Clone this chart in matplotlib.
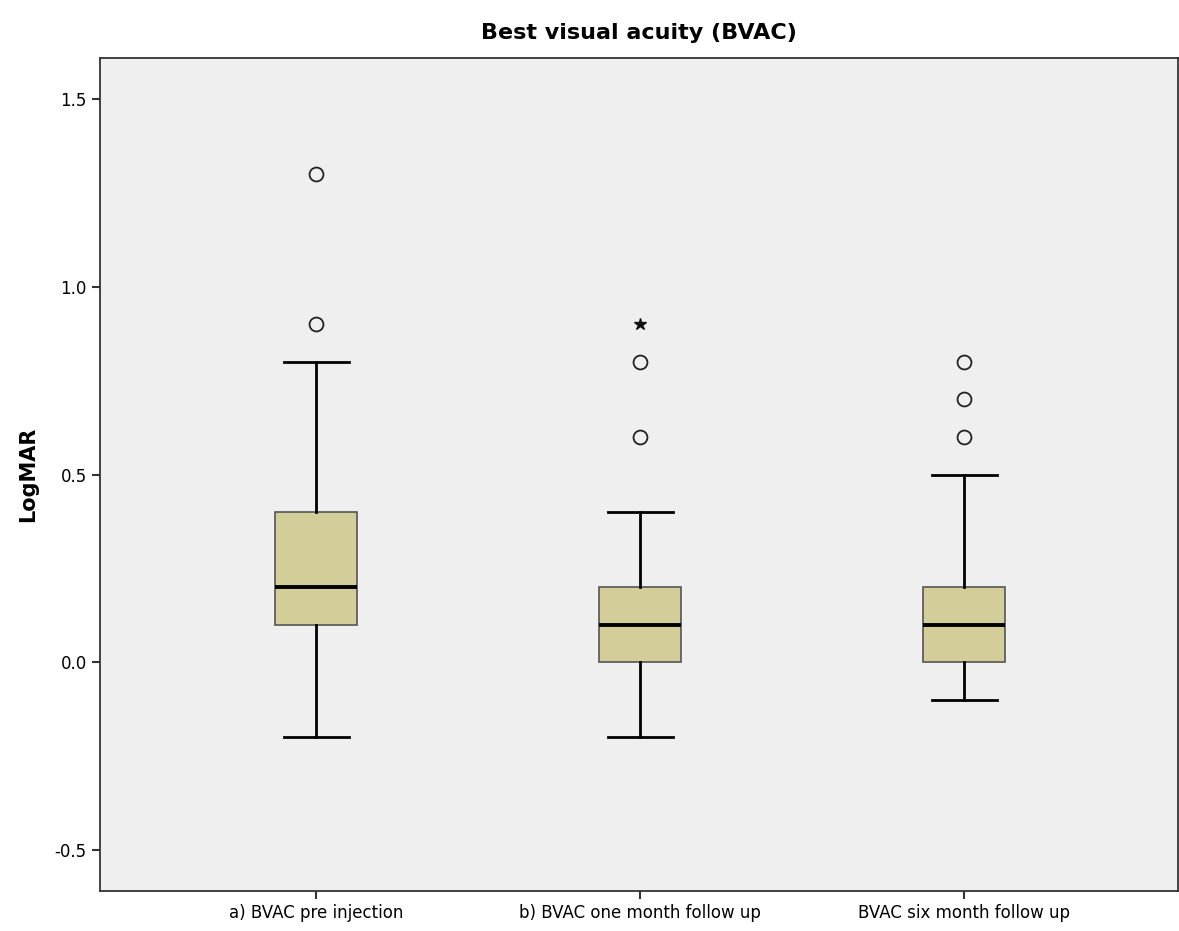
import numpy as np
import matplotlib.pyplot as plt

labels = ["a) BVAC pre injection", "b) BVAC one month follow up", "BVAC six month follow up"]
q1 = [0.1, 0.0, 0.0]
med = [0.2, 0.1, 0.1]
q3 = [0.4, 0.2, 0.2]
whislo = [-0.2, -0.2, -0.1]
whishi = [0.8, 0.4, 0.5]
outliers = [[0.9, 1.3], [0.6, 0.8], [0.6, 0.7, 0.8]]
extremes = [[], [0.9], []]

stats = []
for i in range(3):
    stats.append(dict(med=med[i], q1=q1[i], q3=q3[i], whislo=whislo[i],
                      whishi=whishi[i], fliers=outliers[i], label=labels[i]))

fig = plt.figure(figsize=(11.79, 9.31), dpi=100)
ax = fig.add_axes([100/1179, 40/931, 1078/1179, 833/931])
ax.set_facecolor("#efefef")

pos = np.arange(3)
ax.bxp(stats, positions=pos, widths=0.253, capwidths=0.2, patch_artist=True,
       boxprops=dict(facecolor="#d3ce99", edgecolor="#555555", linewidth=1.2),
       medianprops=dict(color="black", linewidth=2.8),
       whiskerprops=dict(color="black", linewidth=2),
       capprops=dict(color="black", linewidth=2),
       flierprops=dict(marker="o", markerfacecolor="none", markeredgecolor="#222222",
                       markersize=10, markeredgewidth=1.3))
# extreme values drawn as stars
for i in range(3):
    if extremes[i]:
        ax.plot([pos[i]] * len(extremes[i]), extremes[i], marker="*", ls="none",
                color="#111111", markersize=9)

ax.set_xlim(-0.667, 2.66)
ax.set_ylim(-0.609, 1.609)
ax.set_yticks([-0.5, 0.0, 0.5, 1.0, 1.5])
ax.set_yticklabels(["-0.5", "0.0", "0.5", "1.0", "1.5"])
ax.tick_params(axis="both", labelsize=12, color="#333333", length=6, width=1.5)
ax.set_ylabel("LogMAR", fontsize=15, fontweight="bold", labelpad=12)
ax.set_title("Best visual acuity (BVAC)", fontsize=16, fontweight="bold", pad=14)
for s in ax.spines.values():
    s.set_color("#333333")
    s.set_linewidth(1.3)

fig.savefig("out.png", dpi=100)
